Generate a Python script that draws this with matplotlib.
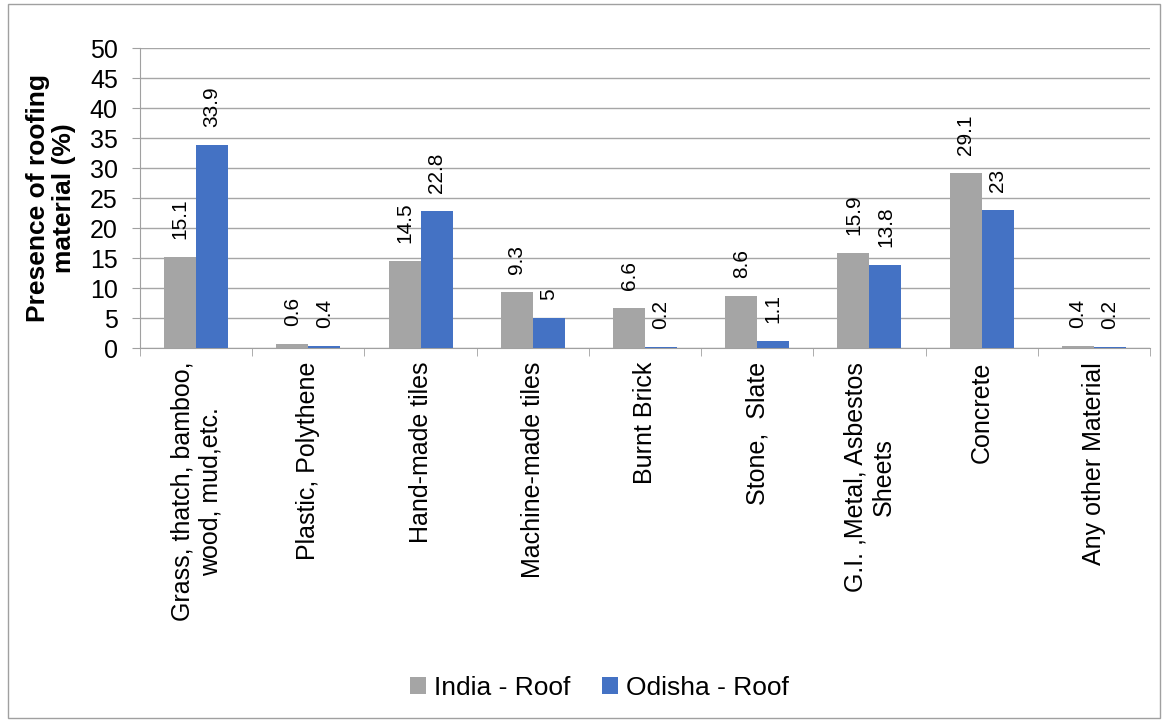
import matplotlib.pyplot as plt
import numpy as np
from matplotlib.patches import Rectangle

plt.rcParams['font.family'] = ['Liberation Sans', 'DejaVu Sans']

categories = ['Grass, thatch, bamboo,\nwood, mud,etc.', 'Plastic, Polythene', 'Hand-made tiles',
              'Machine-made tiles', 'Burnt Brick', 'Stone,  Slate',
              'G.I. ,Metal, Asbestos\nSheets', 'Concrete', 'Any other Material']
india = [15.1, 0.6, 14.5, 9.3, 6.6, 8.6, 15.9, 29.1, 0.4]
odisha = [33.9, 0.4, 22.8, 5, 0.2, 1.1, 13.8, 23, 0.2]
series_names = ['India - Roof', 'Odisha - Roof']

fig = plt.figure(figsize=(11.68, 7.22), dpi=100)
ax = fig.add_axes([0.1199, 0.518, 0.8647, 0.4155])

x = np.arange(len(categories))
w = 0.285
b1 = ax.bar(x - w / 2, india, w, color='#A5A5A5', label=series_names[0], zorder=3)
b2 = ax.bar(x + w / 2, odisha, w, color='#4472C4', label=series_names[1], zorder=3)

# value labels above each bar, rotated like the original
for bars, vals in ((b1, india), (b2, odisha)):
    for bar, v in zip(bars, vals):
        ax.annotate(f'{v:g}', (bar.get_x() + bar.get_width() / 2, bar.get_height()),
                    xytext=(0, 13), textcoords='offset points', rotation=90,
                    ha='center', va='bottom', fontsize=15)

ax.set_xlim(-0.5, len(categories) - 0.5)
ax.set_ylim(0, 50)
ax.set_yticks(np.arange(0, 51, 5))
ax.tick_params(axis='y', labelsize=18, length=6, color='#A0A0A0', pad=10)
ax.yaxis.grid(True, color='#A6A6A6', linewidth=1, zorder=0)
ax.set_axisbelow(True)

ax.set_xticks(x)
ax.set_xticklabels(categories, rotation=90, fontsize=18, ha='center', va='top',
                   multialignment='center')
ax.tick_params(axis='x', length=0, pad=10)
ax.set_xticks(np.arange(-0.5, len(categories), 1), minor=True)
ax.tick_params(axis='x', which='minor', length=6, color='#A0A0A0')

for s in ['top', 'right']:
    ax.spines[s].set_visible(False)
ax.spines['left'].set_color('#A0A0A0')
ax.spines['bottom'].set_color('#A0A0A0')

ax.set_ylabel('Presence of roofing\nmaterial (%)', fontsize=19, fontweight='bold',
              labelpad=10, linespacing=1.1)

fig.legend(loc='center', bbox_to_anchor=(0.513, 0.047), ncol=2, frameon=False,
           fontsize=19, handlelength=0.6, handleheight=0.6, handletextpad=0.3,
           columnspacing=1.2)

# thin grey frame round the whole chart
fig.patches.append(Rectangle((0.007, 0.006), 0.986, 0.988, transform=fig.transFigure,
                             fill=False, edgecolor='#A0A0A0', linewidth=1))

fig.savefig('out.png', dpi=100)
